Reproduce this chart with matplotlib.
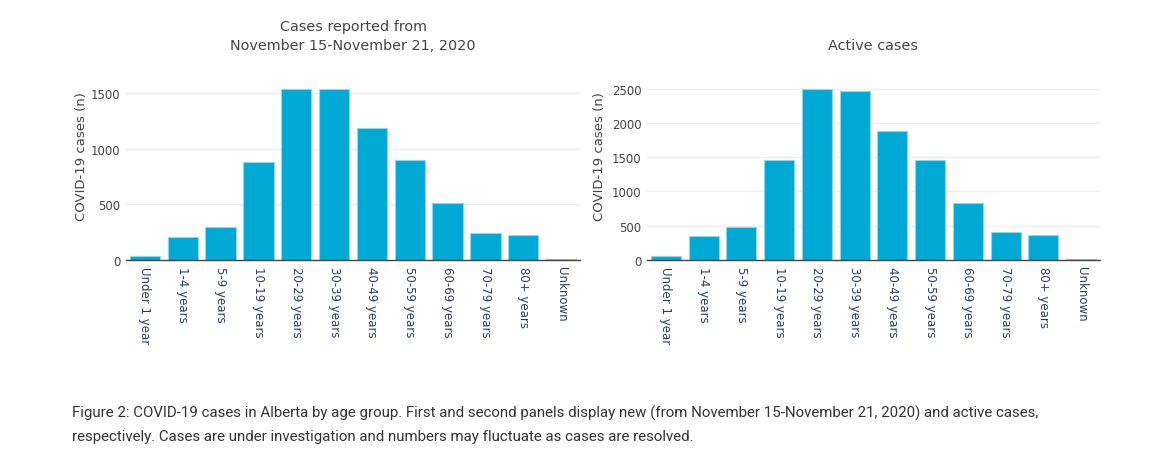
import matplotlib
matplotlib.use("Agg")
import matplotlib.pyplot as plt

categories = ["Under 1 year", "1-4 years", "5-9 years", "10-19 years", "20-29 years",
              "30-39 years", "40-49 years", "50-59 years", "60-69 years", "70-79 years",
              "80+ years", "Unknown"]
new_cases = [33, 205, 292, 881, 1536, 1536, 1187, 902, 509, 241, 229, 12]
active_cases = [58, 354, 485, 1453, 2500, 2461, 1875, 1463, 828, 412, 368, 19]
titles = ["Cases reported from\nNovember 15-November 21, 2020", "Active cases"]
ylabel = "COVID-19 cases (n)"
yticks_left = [0, 500, 1000, 1500]
yticks_right = [0, 500, 1000, 1500, 2000, 2500]
caption = ("Figure 2: COVID-19 cases in Alberta by age group. First and second panels display new "
           "(from November 15-November 21, 2020) and active cases,\nrespectively. Cases are under "
           "investigation and numbers may fluctuate as cases are resolved.")

plt.rcParams['font.family'] = ['DejaVu Sans']
W, H = 1175, 464
fig = plt.figure(figsize=(W / 100, H / 100), dpi=100)

bar_color = "#00a9d4"
text_color = "#444444"

def ax_rect(x0, y0, x1, y1):
    return [x0 / W, 1 - y1 / H, (x1 - x0) / W, (y1 - y0) / H]

panels = [
    (ax_rect(126, 81, 580, 261), new_cases, yticks_left, 1617, titles[0], 88),
    (ax_rect(647, 81, 1100, 261), active_cases, yticks_right, 2625, titles[1], 606),
]

for rect, vals, yt, ytop, title, ylx in panels:
    ax = fig.add_axes(rect)
    x = range(len(categories))
    ax.bar(x, vals, width=0.8, color=bar_color, edgecolor="#8fd8ec", linewidth=0.8, zorder=3)
    ax.set_xlim(-0.5, len(categories) - 0.5)
    ax.set_ylim(0, ytop)
    ax.set_yticks(yt)
    ax.set_yticklabels([str(v) for v in yt], fontsize=8.5, color=text_color)
    ax.set_xticks(list(x))
    ax.set_xticklabels(categories, rotation=-90, fontsize=8.5, color="#2a3f5f",
                       va="top", ha="center")
    ax.tick_params(axis="x", length=0, pad=4)
    ax.tick_params(axis="y", length=0, pad=4)
    ax.grid(axis="y", color="#eeeeee", linewidth=1, zorder=0)
    for s in ["top", "right", "left"]:
        ax.spines[s].set_visible(False)
    ax.spines["bottom"].set_color("#444444")
    ax.spines["bottom"].set_linewidth(1)
    ax.spines["bottom"].set_zorder(4)
    ax.set_ylabel(ylabel, fontsize=9.5, color=text_color)
    x0_px = rect[0] * W
    w_px = rect[2] * W
    ax.yaxis.set_label_coords((ylx - x0_px) / w_px, (261 - 157) / 180)
    ax.set_title(title, fontsize=10.4, color=text_color, pad=22, linespacing=1.45)

fig.text(72 / W, 1 - 425 / H, caption, fontsize=10.8, family="Roboto", color="#333333",
         va="center", ha="left", linespacing=1.85)

fig.savefig("out.png", dpi=100)
